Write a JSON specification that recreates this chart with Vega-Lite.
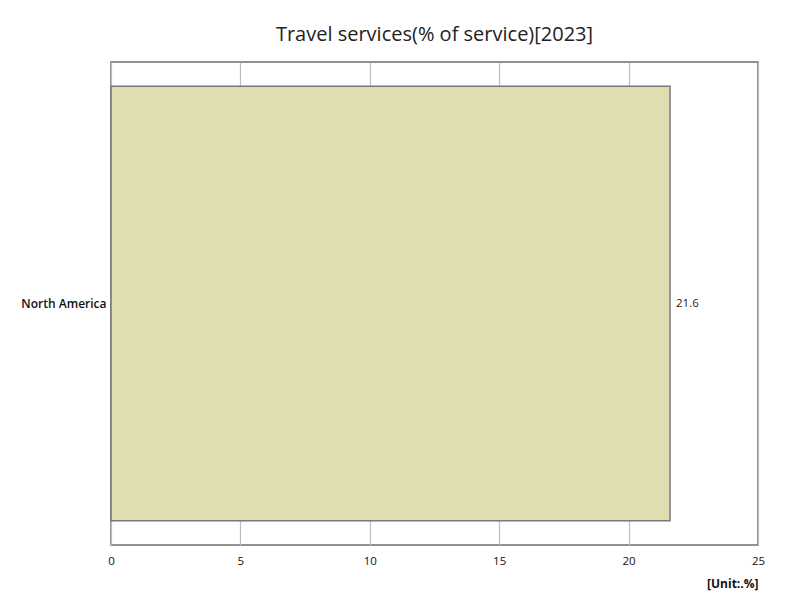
{
  "$schema": "https://vega.github.io/schema/vega-lite/v6.json",
  "autosize": {"type": "none"},
  "padding": {"left": 111, "top": 62, "right": 42, "bottom": 55},
  "width": 647,
  "height": 483,
  "background": "white",
  "title": {
    "text": "Travel services(% of service)[2023]",
    "fontSize": 20,
    "fontWeight": "normal",
    "font": "Open Sans",
    "color": "#222",
    "offset": 17,
    "anchor": "middle"
  },
  "config": {
    "view": {"stroke": "#6e6e6e", "strokeWidth": 1.5},
    "font": "Open Sans"
  },
  "data": {
    "values": [
      {"region": "North America", "value": 21.6}
    ]
  },
  "encoding": {
    "y": {
      "field": "region",
      "type": "nominal",
      "title": null,
      "scale": {"paddingInner": 0.1, "paddingOuter": 0.05},
      "axis": {
        "domain": false,
        "ticks": false,
        "labelPadding": 5,
        "labelFontSize": 12,
        "labelColor": "#111",
        "labelFontWeight": 600
      }
    },
    "x": {
      "field": "value",
      "type": "quantitative",
      "scale": {"domain": [0, 25], "nice": false},
      "title": "[Unit:.%]",
      "axis": {
        "values": [0, 5, 10, 15, 20, 25],
        "domain": false,
        "ticks": false,
        "grid": true,
        "gridColor": "#bdbdbd",
        "gridWidth": 1.2,
        "labelFlush": false,
        "labelPadding": 10,
        "labelFontSize": 11.5,
        "labelColor": "#111",
        "titleAnchor": "end",
        "titleAlign": "right",
        "titleFontSize": 12,
        "titleFontWeight": "bold",
        "titleColor": "#111",
        "titlePadding": 12
      }
    }
  },
  "layer": [
    {
      "mark": {"type": "bar", "fill": "#dfdeb0", "stroke": "#777", "strokeWidth": 1.5}
    },
    {
      "mark": {"type": "text", "align": "left", "dx": 6, "fontSize": 11.5, "color": "#222"},
      "encoding": {"text": {"field": "value", "type": "quantitative", "format": ".1f"}}
    }
  ]
}
